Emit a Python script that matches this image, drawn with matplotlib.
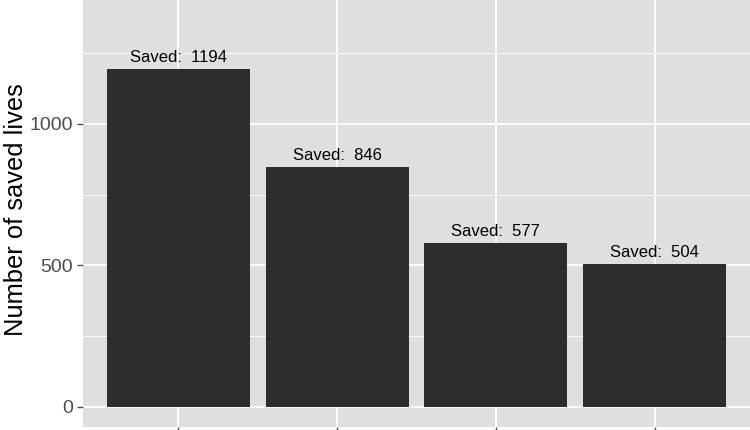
import matplotlib.pyplot as plt

CATEGORIES = ["A", "B", "C", "D"]
SAVED = [1194, 846, 577, 504]
Y_TICKS = [0, 500, 1000]
Y_MINOR = [250, 750, 1250]

PANEL_BG = "#DFDFDF"
BAR_COLOR = "#2D2D2D"
TICK_COLOR = "#4D4D4D"


def main() -> None:
    plt.rcParams.update(
        {
            "font.family": ["Liberation Sans", "DejaVu Sans"],
            "figure.dpi": 100,
        }
    )

    fig = plt.figure(figsize=(7.5, 4.3))
    ax = fig.add_axes([83 / 750, 3 / 430, 667 / 750, 427 / 430])
    ax.set_facecolor(PANEL_BG)

    x = list(range(1, len(CATEGORIES) + 1))
    ax.bar(x, SAVED, width=0.9, color=BAR_COLOR, zorder=3)
    for xi, val in zip(x, SAVED):
        ax.annotate(
            f"Saved:  {val}",
            (xi, val),
            xytext=(0, 3),
            textcoords="offset points",
            ha="center",
            va="bottom",
            fontsize=12,
            color="black",
            zorder=4,
        )

    ax.set_xlim(0.4, len(CATEGORIES) + 0.6)
    ax.set_ylim(-72, 1438)
    ax.set_xticks(x)
    ax.set_xticklabels([""] * len(x))
    ax.set_yticks(Y_TICKS)
    ax.set_yticks(Y_MINOR, minor=True)
    ax.tick_params(axis="both", which="major", length=4, width=1.0, color=TICK_COLOR,
                   labelsize=14, labelcolor=TICK_COLOR, pad=3)
    ax.tick_params(axis="y", which="minor", length=0)

    ax.grid(True, which="major", color="white", linewidth=1.3, zorder=0)
    ax.grid(True, which="minor", axis="y", color="white", linewidth=0.6, zorder=0)
    ax.set_axisbelow(True)
    for side in ax.spines.values():
        side.set_visible(False)

    ax.set_ylabel("Number of saved lives", fontsize=18.4)
    ax.yaxis.set_label_coords(-0.083, 0.51)

    fig.savefig("out.png", dpi=100)
    plt.close(fig)


if __name__ == "__main__":
    main()
